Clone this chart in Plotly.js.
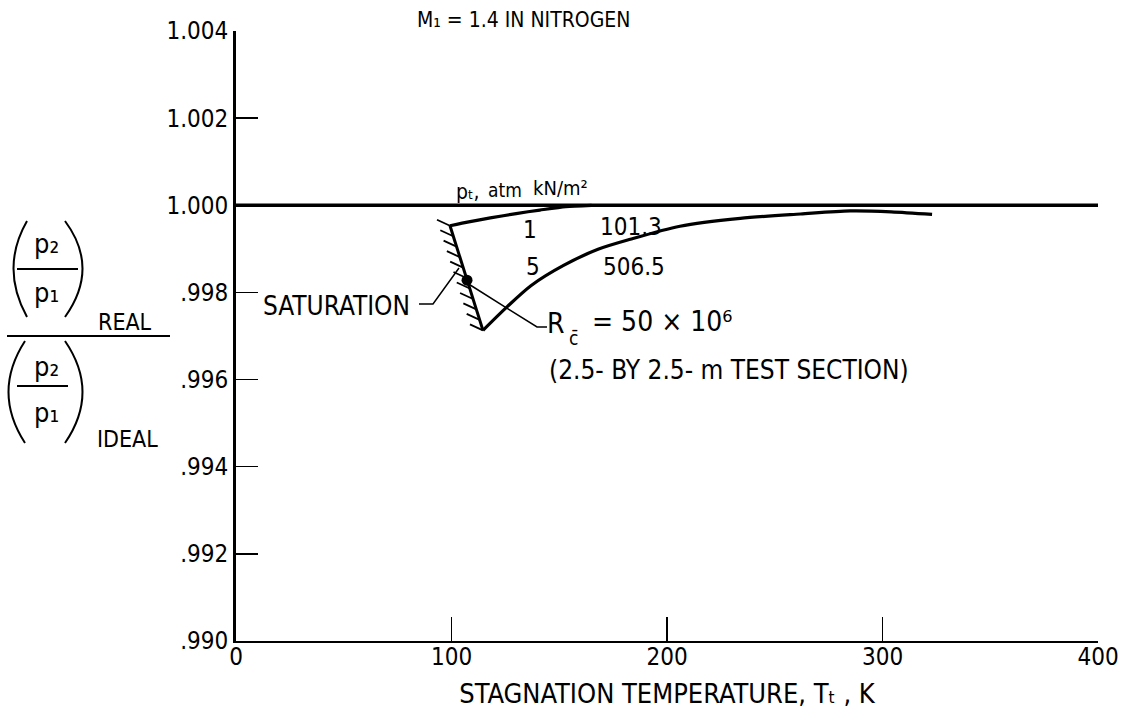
<!DOCTYPE html>
<html><head><meta charset="utf-8">
<script src="https://cdn.plot.ly/plotly-3.0.1.min.js"></script>
<style>html,body{margin:0;padding:0;background:#fff}#chart{width:1125px;height:725px}</style>
</head><body><div id="chart"></div>
<script>
// ---- data ----
const refT = [0, 400];
const refV = [1.000, 1.000];
const t1atm = [99.3, 108, 118, 130, 141, 153, 165];
const v1atm = [0.99953, 0.99962, 0.99971, 0.99981, 0.99989, 0.99997, 1.00000];
const t5atm = [114.6, 126, 137, 152, 168, 183, 206, 234, 262, 285, 304, 323];
const v5atm = [0.99713, 0.99768, 0.99816, 0.99862, 0.99899, 0.99922, 0.99952, 0.99970, 0.99980, 0.99987, 0.99985, 0.99979];
const rcT = [107.2];
const rcV = [0.99828];
const xTicks = [0, 100, 200, 300, 400];
const yTicks = [0.990, 0.992, 0.994, 0.996, 0.998, 1.000, 1.002, 1.004];
const yTickText = [".990", ".992", ".994", ".996", ".998", "1.000", "1.002", "1.004"];
const curveAtm = ["1", "5"];
const curveKN = ["101.3", "506.5"];

// ---- layout geometry ----
const W = 1125, H = 725, M = {l: 236, r: 27, t: 31, b: 84};
const PW = W - M.l - M.r, PH = H - M.t - M.b;
const XR = [0, 400], YR = [0.990, 1.004];
const px2x = px => XR[0] + (px - M.l) / PW * (XR[1] - XR[0]);
const py2y = py => YR[1] - (py - M.t) / PH * (YR[1] - YR[0]);
const px2p = px => (px - M.l) / PW;
const py2p = py => (H - M.b - py) / PH;

const FONT = "DejaVu Sans Condensed";
const BLK = '#000';

function lab(text, px, py, size, anchor) {
  return {text: text, xref: 'paper', yref: 'paper', x: px2p(px), y: py2p(py),
    xanchor: anchor || 'left', yanchor: 'middle', showarrow: false,
    font: {family: FONT, size: size, color: BLK}};
}
function pPath(cmds) {
  return cmds.map(c => c[0] + ' ' + c.slice(1).map((v, i) => i % 2 === 0 ? px2p(v) : py2p(v)).join(' ')).join(' ');
}
function dPath(cmds) {
  return cmds.map(c => c[0] + ' ' + c.slice(1).map((v, i) => i % 2 === 0 ? px2x(v) : py2y(v)).join(' ')).join(' ');
}

// ---- traces ----
const satT = [t1atm[0], t5atm[0]];
const satV = [v1atm[0], v5atm[0]];
const traces = [
  {x: refT, y: refV, mode: 'lines', line: {color: BLK, width: 3.5}, hoverinfo: 'skip'},
  {x: t1atm, y: v1atm, mode: 'lines', line: {color: BLK, width: 3.2, shape: 'spline', smoothing: 0.6}, hoverinfo: 'skip'},
  {x: t5atm, y: v5atm, mode: 'lines', line: {color: BLK, width: 3.2, shape: 'spline', smoothing: 0.8}, hoverinfo: 'skip'},
  {x: satT, y: satV, mode: 'lines', line: {color: BLK, width: 3}, hoverinfo: 'skip'},
  {x: rcT, y: rcV, mode: 'markers', marker: {color: BLK, size: 11}, hoverinfo: 'skip'}
];

// ---- shapes ----
const shapes = [];
const nH = 11;
for (let i = 0; i < nH; i++) {
  const f = i / (nH - 1);
  shapes.push({type: 'line', xref: 'x', yref: 'y', xsizemode: 'pixel', ysizemode: 'pixel',
    xanchor: satT[0] + f * (satT[1] - satT[0]), yanchor: satV[0] + f * (satV[1] - satV[0]),
    x0: 0, y0: 0, x1: -13, y1: 6, line: {color: BLK, width: 1.8}});
}
shapes.push({type: 'path', xref: 'x', yref: 'y', path: dPath([['M', 419, 304], ['L', 433, 304], ['L', 459, 268]]), line: {color: BLK, width: 1.5}});
shapes.push({type: 'path', xref: 'x', yref: 'y', path: dPath([['M', 467, 283], ['L', 537, 327], ['L', 547, 327]]), line: {color: BLK, width: 1.5}});
const paren = (d) => ({type: 'path', xref: 'paper', yref: 'paper', path: pPath(d), line: {color: BLK, width: 2}});
shapes.push(paren([['M', 27, 221], ['Q', 0, 268, 27, 317]]));
shapes.push(paren([['M', 65, 221], ['Q', 100, 268, 65, 317]]));
shapes.push(paren([['M', 25, 341], ['Q', -8, 392, 25, 443]]));
shapes.push(paren([['M', 65, 341], ['Q', 100, 392, 65, 443]]));
shapes.push({type: 'line', xref: 'paper', yref: 'paper', x0: px2p(17), x1: px2p(78), y0: py2p(269), y1: py2p(269), line: {color: BLK, width: 2}});
shapes.push({type: 'line', xref: 'paper', yref: 'paper', x0: px2p(7), x1: px2p(170), y0: py2p(336), y1: py2p(336), line: {color: BLK, width: 2}});
shapes.push({type: 'line', xref: 'paper', yref: 'paper', x0: px2p(17), x1: px2p(68), y0: py2p(386), y1: py2p(386), line: {color: BLK, width: 2}});

// ---- annotations ----
const annotations = [
  lab('M\u2081 = 1.4 IN NITROGEN', 415, 20, 21),
  lab('p\u209c,', 454, 192, 21),
  lab('atm', 486, 190, 19),
  lab('kN/m\u00b2', 531, 188, 20),
  lab(curveAtm[0], 530, 230, 24, 'center'),
  lab(curveKN[0], 598, 227, 24),
  lab(curveAtm[1], 533, 267, 24, 'center'),
  lab(curveKN[1], 601, 267, 24),
  lab('SATURATION', 261, 306, 26),
  lab('R', 545, 323, 28),
  lab('c\u0304', 567, 338, 19),
  lab('= 50 \u00d7 10\u2076', 590, 321, 28),
  lab('(2.5- BY 2.5- m TEST SECTION)', 547, 370, 26),
  lab('p\u2082', 46, 243, 27, 'center'),
  lab('p\u2081', 46, 292, 27, 'center'),
  lab('REAL', 96, 322, 23),
  lab('p\u2082', 46, 366, 27, 'center'),
  lab('p\u2081', 46, 412, 27, 'center'),
  lab('IDEAL', 95, 439, 23)
];

const layout = {
  width: W, height: H, autosize: false, showlegend: false,
  margin: M, paper_bgcolor: '#fff', plot_bgcolor: '#fff',
  font: {family: FONT, color: BLK},
  xaxis: {range: XR, tickvals: xTicks, ticktext: xTicks.map(String), ticks: 'inside', ticklen: 24, tickwidth: 1.5,
    tickcolor: BLK, showline: true, linewidth: 2, linecolor: BLK, showgrid: false, zeroline: false,
    ticklabelstandoff: -7,
    tickfont: {family: FONT, size: 24, color: BLK},
    title: {text: 'STAGNATION TEMPERATURE, T\u209c , K', font: {family: FONT, size: 27, color: BLK}, standoff: 14}},
  yaxis: {range: YR, tickvals: yTicks, ticktext: yTickText, ticks: 'inside', ticklen: 22, tickwidth: 1.5,
    tickcolor: BLK, showline: true, linewidth: 3, linecolor: BLK, showgrid: false, zeroline: false,
    tickfont: {family: FONT, size: 24, color: BLK}},
  shapes: shapes, annotations: annotations
};

Plotly.newPlot('chart', traces, layout, {staticPlot: true, displayModeBar: false});
</script></body></html>
